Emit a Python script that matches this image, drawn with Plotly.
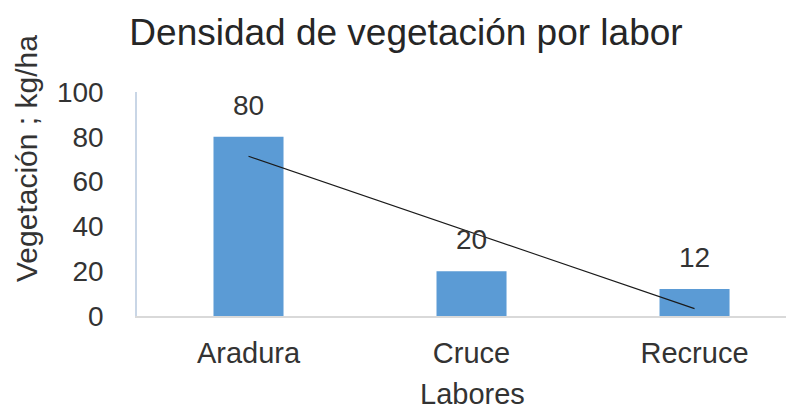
import plotly.graph_objects as go

categories = ["Aradura", "Cruce", "Recruce"]
values = [80, 20, 12]
trend_values = [71.3, 37.3, 3.3]
y_ticks = [0, 20, 40, 60, 80, 100]

title_text = "Densidad de vegetación por labor"
x_title = "Labores"
y_title = "Vegetación ; kg/ha"

FONT = "Liberation Sans, Arial, sans-serif"
TXT = "#333333"

# page body has an 8px default margin, so the figure is sized to fit the window
W, H = 786, 405
ML, MT, MB = 129, 84, 97
PW, PH = W - ML, H - MT - MB

fig = go.Figure()
fig.add_trace(go.Bar(
    x=categories, y=values, width=0.314,
    marker=dict(color="#5B9BD5", line=dict(width=0)),
    showlegend=False, hoverinfo="x+y",
))
fig.add_trace(go.Scatter(
    x=categories, y=trend_values, mode="lines",
    line=dict(color="#1a1a1a", width=1.1),
    showlegend=False, hoverinfo="skip",
))

for c, v in zip(categories, values):
    fig.add_annotation(x=c, y=v, text=str(v), showarrow=False,
                       yanchor="bottom", yshift=14,
                       font=dict(family=FONT, size=28, color=TXT))

# axis titles placed as in the reference
fig.add_annotation(xref="paper", yref="paper",
                   x=(18 - ML) / PW, y=(H - MB - 151) / PH,
                   text=y_title, textangle=-90, showarrow=False,
                   xanchor="center", yanchor="middle", borderpad=0,
                   font=dict(family=FONT, size=30, color=TXT))
fig.add_annotation(xref="paper", yref="paper",
                   x=(464 - ML) / PW, y=(H - MB - 386) / PH,
                   text=x_title, showarrow=False,
                   xanchor="center", yanchor="middle",
                   font=dict(family=FONT, size=29, color=TXT))

fig.update_layout(
    width=W, height=H,
    margin=dict(l=ML, r=0, t=MT, b=MB, autoexpand=False),
    paper_bgcolor="white", plot_bgcolor="white",
    font=dict(family=FONT, color=TXT),
    title=dict(text=title_text, x=398/W, xanchor="center",
               y=1 - 24/H, yanchor="middle",
               font=dict(family=FONT, size=37, color="#262626")),
    xaxis=dict(
        type="category", range=[-0.5, 2.446], automargin=False,
        showline=True, linecolor="#D9D9D9", linewidth=1.5,
        showgrid=False, zeroline=False, ticks="",
        tickfont=dict(family=FONT, size=29, color=TXT),
        ticklabelstandoff=10,
    ),
    yaxis=dict(
        range=[0, 100], tickvals=y_ticks, automargin=False,
        showline=True, linecolor="#C9D6E6", linewidth=1.5,
        showgrid=False, zeroline=False, ticks="",
        tickfont=dict(family=FONT, size=28, color=TXT),
        ticklabelstandoff=26,
    ),
)

fig.write_html("out.html")
